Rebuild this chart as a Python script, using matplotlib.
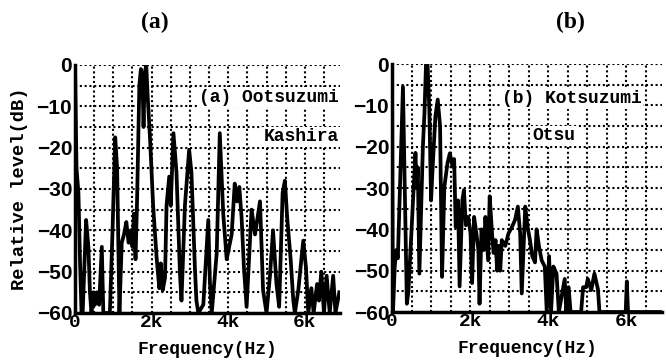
import numpy as np
import matplotlib.pyplot as plt

# spectrum (a): Ootsuzumi, Kashira  -- frequency in kHz, level in dB
freq_a = [0, 0.04, 0.09, 0.13, 0.17, 0.2, 0.29, 0.35, 0.39, 0.43, 0.48, 0.52, 0.57,
          0.63, 0.7, 0.74, 0.91, 0.98, 1.05, 1.1, 1.16, 1.22, 1.28, 1.34, 1.4, 1.46,
          1.5, 1.54, 1.58, 1.62, 1.68, 1.72, 1.76, 1.79, 1.82, 1.86, 1.9, 1.96, 2.04,
          2.13, 2.2, 2.24, 2.29, 2.35, 2.39, 2.46, 2.5, 2.57, 2.65, 2.74, 2.78, 2.87,
          2.98, 3.04, 3.13, 3.17, 3.22, 3.35, 3.48, 3.52, 3.57, 3.7, 3.78, 3.87, 3.96,
          4.09, 4.17, 4.23, 4.29, 4.35, 4.41, 4.48, 4.61, 4.7, 4.83, 4.91, 5.0, 5.09,
          5.17, 5.26, 5.33, 5.42, 5.48, 5.54, 5.63, 5.7, 5.74, 5.83, 5.91, 5.96, 6.03,
          6.09, 6.17, 6.23, 6.32, 6.37, 6.43, 6.5, 6.57, 6.65, 6.74, 6.8, 6.9]
level_a = [0, -25, -31, -47, -60, -60, -37.5, -44, -55, -60, -55, -58, -55,
           -58, -44, -60, -60, -40, -17.5, -25, -60, -43, -41, -38, -43, -40,
           -44, -36, -47, -33, -5, -1, -3, -15, -2, 0, -8, -18, -34,
           -46.5, -54, -48, -54.5, -51.5, -34, -27, -34, -16.5, -26, -50.5, -57, -34,
           -20.5, -26, -49, -57, -60, -58, -37.5, -52, -60, -45.5, -16.5, -36, -47,
           -41, -28.7, -33, -29.5, -37, -49, -58.5, -35, -41, -33, -54.5, -60, -51,
           -40, -53, -58.5, -31, -28, -37, -47, -57, -60, -54.5, -47, -42.5, -49,
           -60, -54, -60, -53, -57, -50, -60, -51, -60, -51, -60, -55]

# spectrum (b): Kotsuzumi, Otsu
freq_b = [0, 0.02, 0.025, 0.07, 0.11, 0.15, 0.28, 0.38, 0.42, 0.6, 0.63, 0.66, 0.7,
          0.79, 0.83, 0.87, 0.91, 0.955, 1.0, 1.04, 1.11, 1.17, 1.23, 1.28, 1.34,
          1.42, 1.48, 1.55, 1.59, 1.63, 1.69, 1.73, 1.8, 1.84, 1.89, 1.95, 2.01,
          2.05, 2.1, 2.16, 2.21, 2.24, 2.29, 2.35, 2.39, 2.46, 2.5, 2.56, 2.6, 2.65,
          2.69, 2.73, 2.77, 2.81, 2.9, 2.98, 3.07, 3.15, 3.22, 3.28, 3.32, 3.41,
          3.47, 3.53, 3.59, 3.66, 3.7, 3.76, 3.83, 3.91, 3.96, 4.02, 4.07, 4.13,
          4.21, 4.27, 4.42, 4.46, 4.52, 4.57, 4.84, 4.89, 4.97, 5.01, 5.1, 5.18,
          5.27, 5.31, 5.98, 6.01, 6.04, 6.9]
level_b = [0, -60, -60, -49, -45, -47, -5.5, -58, -55, -21.5, -30, -25, -50.7,
           -20, -12, 0, 0, -11, -33, -25, -12.7, -8.6, -15, -51.5, -29.7,
           -24, -21.6, -24.8, -23, -39.4, -33, -53.8, -33, -30.5, -39, -37, -41,
           -53, -37, -41, -45, -58, -40, -45, -37, -47.5, -32, -41, -45.7, -42.6,
           -50, -44, -50, -42.6, -44, -41, -39.4, -37.7, -34.5, -41, -55.5, -34.5,
           -39.4, -42.6, -46.5, -48, -40, -44, -47.5, -49, -60, -46.5, -60, -49,
           -50.7, -60, -52, -60, -54, -60, -60, -54, -54, -52, -54.7, -50.7,
           -54.5, -60, -60, -52.6, -60, -60]

panels = [
    ("(a)", freq_a, level_a, ["(a) Ootsuzumi", "Kashira"], True),
    ("(b)", freq_b, level_b, ["(b) Kotsuzumi", "Otsu"], False),
]

mono = "Liberation Mono"
fig = plt.figure(figsize=(6.66, 3.6), dpi=100)
rects = [[0.1126, 0.1306, 0.398, 0.6889], [0.5886, 0.1333, 0.406, 0.6889]]
# annotation anchors (axes fraction) and alignment
text_pos = [[(0.995, 0.87, "right"), (0.995, 0.71, "right")],
            [(0.665, 0.86, "center"), (0.6, 0.71, "center")]]
title_x = [155 / 666, 570 / 666]

for i, (title, f, lv, notes, show_ylabel) in enumerate(panels):
    ax = fig.add_axes(rects[i])
    ax.plot(np.array(f) * 1000, lv, color="black", lw=2.7, zorder=3)
    ax.set_xlim(0, 6920)
    ax.set_ylim(-60, 0)
    ax.set_xticks(np.arange(0, 7000, 500), minor=True)
    ax.set_xticks([0, 2000, 4000, 6000])
    ax.set_xticklabels(["0", "2k", "4k", "6k"], fontsize=14, fontweight="bold", family=mono)
    ax.set_yticks(np.arange(-60, 1, 5), minor=True)
    ax.set_yticks(np.arange(-60, 1, 10))
    ax.set_yticklabels(["\u221260", "\u221250", "\u221240", "\u221230", "\u221220", "\u221210", "0"],
                       fontsize=15, fontweight="bold", family="Liberation Sans")
    ax.tick_params(which="both", length=0)
    ax.tick_params(axis="x", pad=1)
    ax.tick_params(axis="y", pad=2)
    ax.grid(which="both", color="black", linestyle=(0, (1, 1.3)), linewidth=1.5)
    for side in ["top", "right"]:
        ax.spines[side].set_visible(False)
    for side in ["left", "bottom"]:
        ax.spines[side].set_linewidth(2.5)
    ax.set_xlabel("Frequency(Hz)", fontsize=13, fontweight="bold", family=mono, labelpad=7)
    if show_ylabel:
        ax.set_ylabel("Relative level(dB)", fontsize=13.5, fontweight="bold", family=mono, labelpad=6)
    fig.text(title_x[i], 1 - 22 / 360, title, fontsize=17, fontweight="bold",
             family="Liberation Serif", ha="center", va="center")
    for (tx, ty, ha), note in zip(text_pos[i], notes):
        ax.text(tx, ty, note, transform=ax.transAxes, ha=ha, va="center",
                fontsize=13, fontweight="bold", family=mono, zorder=4,
                bbox=dict(facecolor="white", edgecolor="none", pad=1))

fig.savefig("out.png", dpi=100)
